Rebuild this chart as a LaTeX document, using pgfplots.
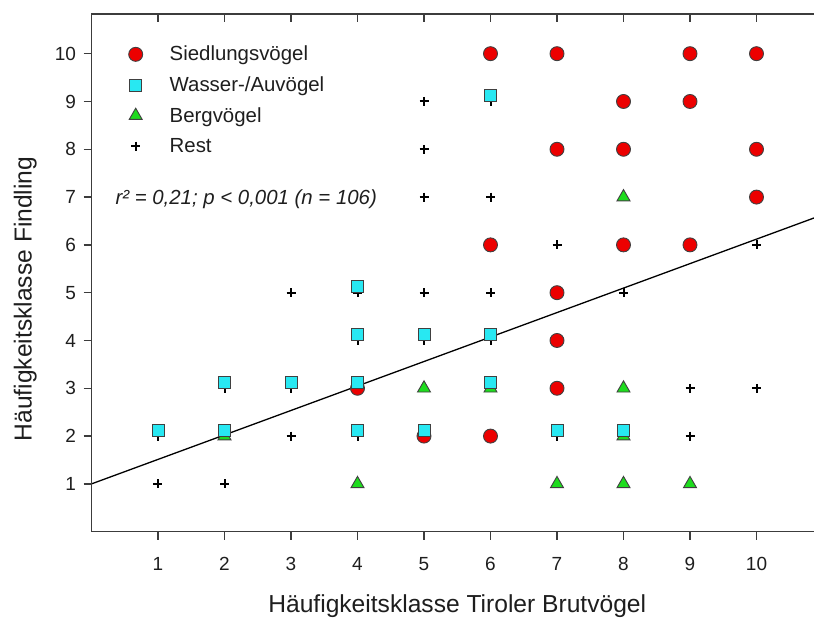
\documentclass[border=0pt]{standalone}
\usepackage{fontspec}
\setmainfont{Liberation Sans}
\usepackage{pgfplots}
\pgfplotsset{compat=1.18}
\definecolor{axgray}{RGB}{60,60,60}
\definecolor{txt}{RGB}{30,30,30}
\definecolor{sred}{RGB}{236,0,0}
\definecolor{scyan}{RGB}{40,232,242}
\definecolor{sgreen}{RGB}{30,220,30}
\begin{document}
\begin{tikzpicture}
\begin{axis}[
  scale only axis, width=731.5pt, height=517.7pt,
  xmin=0, xmax=11, ymin=0, ymax=10.83,
  axis line style={line width=1.4pt, color=axgray},
  xtick={1,...,10}, ytick={1,...,10},
  xtick pos=bottom, ytick pos=left, tick align=outside,
  major tick length=8pt,
  tick style={line width=1.3pt, color=axgray},
  ticklabel style={font=\fontsize{19}{21}\selectfont, text=txt},
  /pgf/number format/assume math mode=true,
  xticklabel style={yshift=-14pt},
  yticklabel style={xshift=-4pt},
  xlabel={Häufigkeitsklasse Tiroler Brutvögel},
  ylabel={Häufigkeitsklasse Findling},
  label style={font=\fontsize{24.6}{28}\selectfont, text=txt},
  xlabel style={at={(rel axis cs:0.5,-0.157)}, anchor=base},
  ylabel style={at={(rel axis cs:-0.0818,0.4495)}, anchor=base, rotate=0},
  legend style={draw=none, fill=none, at={(rel axis cs:0,1)}, anchor=north west,
    xshift=34pt, yshift=-28pt, font=\fontsize{20.4}{24}\selectfont, text=txt,
    row sep=10.4pt, /tikz/every odd column/.append style={column sep=25pt}},
  legend cell align=left,
]
\coordinate (O) at (axis cs:0,0);
\addlegendimage{only marks, mark=*, mark size=7pt, mark options={fill=sred, draw=black!75, line width=0.9pt}}
\addlegendentry{Siedlungsvögel}
\addlegendimage{only marks, mark=square*, mark size=6pt, mark options={fill=scyan, draw=black!75, line width=0.9pt}}
\addlegendentry{Wasser-/Auvögel}
\addlegendimage{only marks, mark=triangle*, mark size=7.5pt, mark options={fill=sgreen, draw=black!75, line width=0.9pt}}
\addlegendentry{Bergvögel}
\addlegendimage{only marks, mark=+, mark size=4.5pt, line width=2pt, black}
\addlegendentry{Rest}
% regression line
\addplot[forget plot, black, line width=1.3pt] coordinates {(0,1.0) (11,6.632)};
% Rest
\addplot[forget plot, only marks, mark=+, mark size=4.5pt, line width=2pt, black] coordinates {
(1,1) (1,2) (2,1) (2,3) (3,5) (3,3) (3,2) (4,5) (4,4) (4,2)
(5,9) (5,8) (5,7) (5,5) (5,4) (6,9) (6,7) (6,5) (6,4) (7,6) (7,2)
(8,5) (9,3) (9,2) (10,6) (10,3) (10,7)};
% Bergvoegel
\addplot[forget plot, only marks, mark=triangle*, mark size=7.5pt, mark options={fill=sgreen, draw=black!75, line width=0.9pt}] coordinates {
(2,2) (4,1) (5,3) (6,3) (7,1) (8,7) (8,3) (8,2) (8,1) (9,1)};
% Siedlungsvoegel
\addplot[forget plot, only marks, mark=*, mark size=7pt, mark options={fill=sred, draw=black!75, line width=0.9pt}] coordinates {
(4,3) (5,2) (6,10) (6,6) (6,2) (7,10) (7,8) (7,5) (7,4) (7,3)
(8,9) (8,8) (8,6) (9,10) (9,9) (9,6) (10,10) (10,8) (10,7)};
% Wasser-/Auvoegel
\addplot[forget plot, only marks, mark=square*, mark size=6pt, mark options={fill=scyan, draw=black!75, line width=0.9pt}] coordinates {
(1,2.12) (2,2.12) (2,3.12) (3,3.12) (4,5.12) (4,4.12) (4,3.12) (4,2.12)
(5,4.12) (5,2.12) (6,9.12) (6,4.12) (6,3.12) (7,2.12) (8,2.12)};
\node[anchor=base west, font=\fontsize{20.4}{24}\selectfont\itshape, text=txt] at (axis cs:0.308,6.835) {r² = 0,21; p < 0,001 (n = 106)};
\end{axis}
\begin{axis}[
  scale only axis, width=731.5pt, height=517.7pt,
  xmin=0, xmax=11, ymin=0, ymax=10.83,
  axis line style={line width=1.4pt, color=axgray},
  xtick={1,...,10}, ytick={1,...,10},
  xtick pos=top, ytick pos=right, tick align=inside,
  major tick length=8pt,
  tick style={line width=1.3pt, color=axgray},
  xticklabels={}, yticklabels={},
]
\end{axis}
\pgfresetboundingbox
\useasboundingbox ([shift={(-91.5pt,-88.3pt)}]O) rectangle ([shift={(722.5pt,531.7pt)}]O);
\end{tikzpicture}
\end{document}
